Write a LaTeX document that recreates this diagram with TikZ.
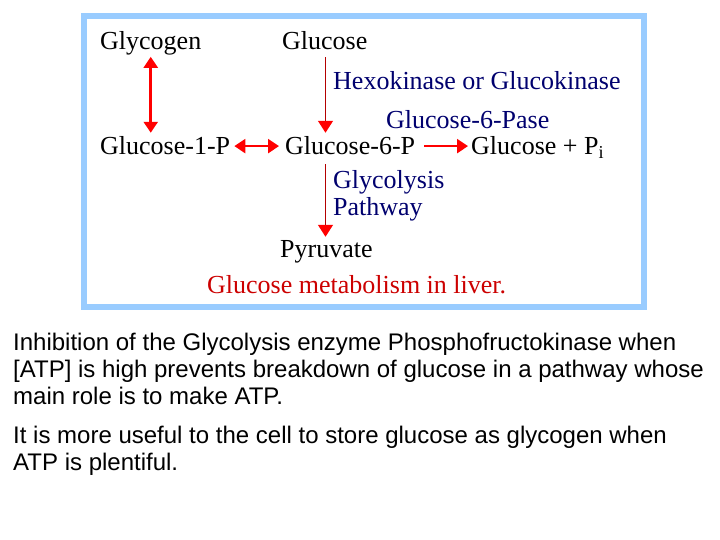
\documentclass[tikz,border=0pt]{standalone}
\usepackage{fontspec}
\setmainfont{Liberation Serif}
\newfontfamily\arialfont{Liberation Sans}
\usetikzlibrary{arrows.meta}

\definecolor{boxblue}{RGB}{153,204,255}
\definecolor{enzblue}{RGB}{0,0,110}
\definecolor{titlered}{RGB}{204,0,0}
\definecolor{shaftred}{RGB}{180,0,0}

\tikzset{
  mol/.style={anchor=base west, inner sep=0pt, font=\fontsize{26}{30}\selectfont},
  enz/.style={mol, text=enzblue},
  revarrow/.style={red, line width=2.5pt,
    {Triangle[width=14pt,length=11pt]}-{Triangle[width=14pt,length=11pt]}},
  fwdarrow/.style={red, line width=2.5pt, -{Triangle[width=14pt,length=11pt]}},
  steparrow/.style={shaftred, line width=1.5pt,
    -{Triangle[width=15pt,length=12pt,color=red]}}
}

\begin{document}
\begin{tikzpicture}[x=1pt,y=-1pt]
  \useasboundingbox (0,0) rectangle (720,540);

  % Rahmen
  \draw[boxblue, line width=6pt] (84,16) rectangle (644,307);

  % Stoffe
  \node[mol] (glycogen) at (100,50) {Glycogen};
  \node[mol] (glucose)  at (282,50) {Glucose};
  \node[mol] (gonep)    at (100,155) {Glucose-1-P};
  \node[mol] (gsixp)    at (285,155) {Glucose-6-P};
  \node[mol] (glucpi)   at (471,155) {Glucose + P\textsubscript{i}};
  \node[mol] (pyruvate) at (280,257) {Pyruvate};

  % Enzyme
  \node[enz] (hexo)  at (333,90)  {Hexokinase or Glucokinase};
  \node[enz] (gsase) at (386,129) {Glucose-6-Pase};
  \node[enz] (glyco) at (333,189) {Glycolysis};
  \node[enz] (path)  at (333,215) {Pathway};

  \node[mol, text=titlered] (title) at (207,293) {Glucose metabolism in liver.};

  % Pfeile
  \coordinate (down) at ([xshift=43.5pt]glucose.south west);
  \draw[revarrow] ([yshift=-1pt]glycogen.south) -- ([yshift=4pt]glycogen.south |- gonep.north);
  \draw[steparrow] ([yshift=-7pt]down) -- ([yshift=4pt]down |- gsixp.north);
  \draw[revarrow] ([xshift=4pt]gonep.east) -- ([xshift=-6pt]gsixp.west);
  \draw[fwdarrow] ([xshift=9pt]gsixp.east) -- ([xshift=-3pt]gsixp.east -| glucpi.west);
  \draw[steparrow] ([yshift=-9pt]down |- gsixp.south) -- ([yshift=3pt]down |- pyruvate.north);

  % Text
  \node[anchor=base west, inner sep=0pt, align=left,
        font=\arialfont\fontsize{24}{27}\selectfont] (notes) at (13,470)
    {Inhibition of the Glycolysis enzyme Phosphofructokinase when\\
     {[}ATP] is high prevents breakdown of glucose in a pathway whose\\
     main role is to make ATP.\\[12pt]
     It is more useful to the cell to store glucose as glycogen when\\
     ATP is plentiful.};
\end{tikzpicture}
\end{document}
